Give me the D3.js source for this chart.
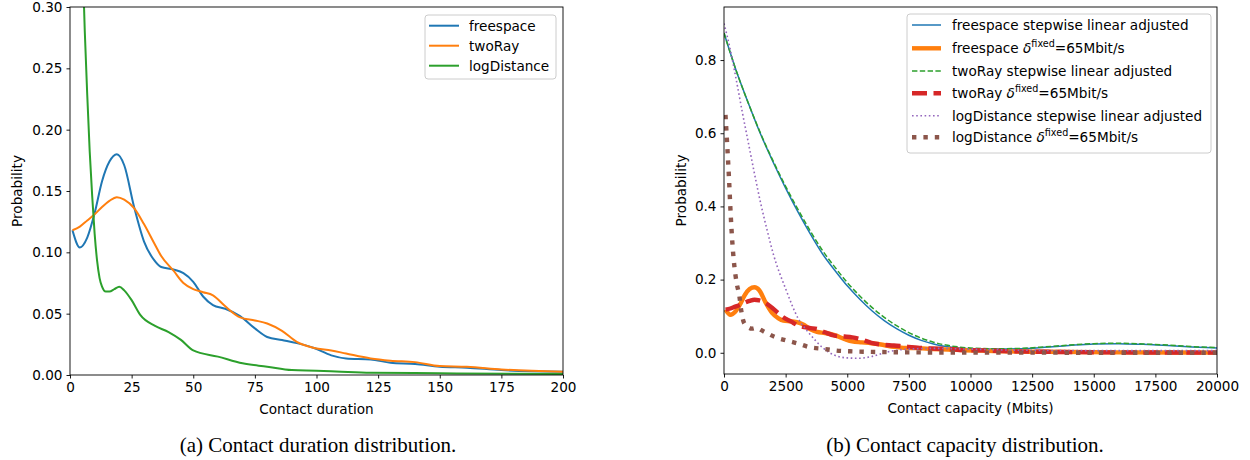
<!DOCTYPE html>
<html>
<head>
<meta charset="utf-8">
<script src="https://cdn.jsdelivr.net/npm/d3@7"></script>
<style>
  body { margin: 0; background: #fff; }
  svg text { font-family: "DejaVu Sans", sans-serif; }
</style>
</head>
<body>
<svg id="chart" width="1250" height="460"></svg>
<script>
// ---------------- DATA ----------------
// (a) Contact duration distribution
const durX = [1, 4, 7, 10, 13, 16, 19, 22, 26, 30, 34, 37, 42, 46, 50, 54, 58, 63, 69, 75, 80, 86, 92, 99, 106, 112, 122, 130, 140, 150, 161, 175, 200];
const durFreespace = [0.118, 0.104, 0.112, 0.132, 0.158, 0.174, 0.180, 0.171, 0.137, 0.109, 0.094, 0.088, 0.086, 0.083, 0.076, 0.064, 0.057, 0.054, 0.048, 0.038, 0.031, 0.0285, 0.026, 0.022, 0.016, 0.0135, 0.0127, 0.010, 0.009, 0.0068, 0.006, 0.004, 0.0027];
const durTwoRay = [0.118, 0.121, 0.126, 0.131, 0.137, 0.142, 0.145, 0.143, 0.136, 0.123, 0.108, 0.097, 0.085, 0.075, 0.070, 0.0675, 0.065, 0.056, 0.047, 0.0445, 0.042, 0.036, 0.027, 0.022, 0.020, 0.0175, 0.0135, 0.0117, 0.0105, 0.0073, 0.0067, 0.0045, 0.0027];
const durLogX = [1, 2, 3, 4, 5, 6, 7, 8, 9, 10, 11, 12, 13, 14.5, 16, 18, 20, 22, 25, 28.5, 34.5, 40, 45, 50, 60, 70, 80, 90, 100, 110, 122, 150, 200];
const durLogDistance = [0.65, 0.58, 0.50, 0.42, 0.345, 0.28, 0.228, 0.182, 0.146, 0.115, 0.093, 0.079, 0.072, 0.068, 0.068, 0.070, 0.072, 0.069, 0.061, 0.049, 0.040, 0.035, 0.0286, 0.020, 0.015, 0.0095, 0.0068, 0.004, 0.0035, 0.0027, 0.0019, 0.0014, 0.0008];
const durXTicks = [0, 25, 50, 75, 100, 125, 150, 175, 200];
const durYTicks = [0.00, 0.05, 0.10, 0.15, 0.20, 0.25, 0.30];
const durSeriesNames = ["freespace", "twoRay", "logDistance"];

// (b) Contact capacity distribution
const capStepX = [0, 500, 1000, 1500, 2000, 2500, 3000, 3500, 4000, 4500, 5000, 5500, 6000, 6500, 7000, 7500, 8000, 8500, 9000, 9500, 10000, 11000, 12000, 13000, 14000, 15000, 16000, 17000, 18000, 19000, 20000];
const capFreespaceStep = [0.874, 0.77, 0.68, 0.595, 0.52, 0.45, 0.385, 0.325, 0.27, 0.225, 0.183, 0.147, 0.115, 0.088, 0.066, 0.048, 0.034, 0.024, 0.017, 0.013, 0.011, 0.010, 0.011, 0.015, 0.020, 0.024, 0.025, 0.023, 0.020, 0.016, 0.013];
const capTwoRayStep = [0.874, 0.77, 0.68, 0.597, 0.523, 0.455, 0.392, 0.333, 0.279, 0.234, 0.192, 0.156, 0.124, 0.097, 0.074, 0.055, 0.040, 0.029, 0.021, 0.016, 0.013, 0.011, 0.012, 0.016, 0.021, 0.025, 0.026, 0.024, 0.021, 0.017, 0.014];
const capLogStepX = [0, 250, 500, 750, 1000, 1250, 1500, 1750, 2000, 2500, 3000, 3500, 4000, 4500, 5000, 5500, 6000, 6500, 7000, 7500, 8500, 10000, 12000, 15000, 20000];
const capLogDistanceStep = [0.90, 0.83, 0.745, 0.655, 0.57, 0.485, 0.405, 0.335, 0.27, 0.175, 0.095, 0.05, 0.014, -0.007, -0.014, -0.015, -0.010, 0.000, 0.007, 0.010, 0.012, 0.010, 0.007, 0.006, 0.006];
const capFixedX = [65, 260, 455, 650, 845, 1040, 1235, 1430, 1690, 1950, 2210, 2405, 2730, 2990, 3250, 3510, 3770, 4095, 4485, 4875, 5200, 5590, 5980, 6435, 6890, 7280, 7930, 8450, 9100, 9750, 10465, 11375, 13000, 16000, 20000];
const capFreespaceFixed = [0.118, 0.104, 0.112, 0.132, 0.158, 0.174, 0.179, 0.171, 0.137, 0.109, 0.094, 0.088, 0.086, 0.083, 0.076, 0.064, 0.057, 0.054, 0.048, 0.038, 0.031, 0.0285, 0.026, 0.022, 0.016, 0.0135, 0.0127, 0.010, 0.009, 0.0068, 0.006, 0.004, 0.0027, 0.001, 0.0005];
const capTwoRayFixed = [0.118, 0.121, 0.126, 0.131, 0.137, 0.142, 0.145, 0.143, 0.136, 0.123, 0.108, 0.097, 0.085, 0.075, 0.070, 0.0675, 0.065, 0.056, 0.047, 0.0445, 0.042, 0.036, 0.027, 0.022, 0.020, 0.0175, 0.0135, 0.0117, 0.0105, 0.0073, 0.0067, 0.0045, 0.0027, 0.001, 0.0005];
const capLogFixedX = [60, 120, 200, 270, 340, 400, 460, 515, 620, 700, 780, 900, 1000, 1124, 1300, 1594, 2069, 2515, 3014, 3489, 4004, 4572, 5111, 6000, 7000, 8000, 10000, 13000, 20000];
const capLogDistanceFixed = [0.65, 0.58, 0.48, 0.38, 0.30, 0.25, 0.215, 0.19, 0.157, 0.115, 0.088, 0.074, 0.069, 0.066, 0.068, 0.059, 0.043, 0.034, 0.025, 0.015, 0.011, 0.006, 0.004, 0.0025, 0.0015, 0.001, 0.0005, 0.0003, 0.0002];
const capXTicks = [0, 2500, 5000, 7500, 10000, 12500, 15000, 17500, 20000];
const capYTicks = [0.0, 0.2, 0.4, 0.6, 0.8];
const capSeriesNames = ["freespace stepwise linear adjusted", "freespace", "twoRay stepwise linear adjusted", "twoRay", "logDistance stepwise linear adjusted", "logDistance"];

// ---------------- DRAWING ----------------
const svg = d3.select("#chart");
const FS = 13.6;
const C = { blue: "#1f77b4", orange: "#ff7f0e", green: "#2ca02c", red: "#d62728", purple: "#9467bd", brown: "#8c564b" };

function zip(xs, ys) { return xs.map((x, i) => [x, ys[i]]); }

function panel(id, box, xDomain, yDomain, xTicks, yTicks, yFmt, xLabel, yLabelOffset) {
  const x = d3.scaleLinear().domain(xDomain).range([box.l, box.r]);
  const y = d3.scaleLinear().domain(yDomain).range([box.b, box.t]);
  svg.append("clipPath").attr("id", id).append("rect")
    .attr("x", box.l).attr("y", box.t).attr("width", box.r - box.l).attr("height", box.b - box.t);
  const g = svg.append("g");
  const plot = g.append("g").attr("clip-path", `url(#${id})`);
  const axG = g.append("g");
  const xa = axG.append("g").attr("transform", `translate(0,${box.b})`)
    .call(d3.axisBottom(x).tickValues(xTicks).tickSize(3.5).tickPadding(4).tickFormat(d3.format("d")));
  const ya = axG.append("g").attr("transform", `translate(${box.l},0)`)
    .call(d3.axisLeft(y).tickValues(yTicks).tickSize(3.5).tickPadding(4).tickFormat(yFmt));
  [xa, ya].forEach(a => {
    a.select(".domain").remove();
    a.selectAll("line").attr("stroke", "#000").attr("stroke-width", 0.9);
    a.selectAll("text").attr("font-size", FS).attr("fill", "#000").attr("font-family", "DejaVu Sans");
  });
  axG.append("rect").attr("x", box.l).attr("y", box.t).attr("width", box.r - box.l).attr("height", box.b - box.t)
    .attr("fill", "none").attr("stroke", "#000").attr("stroke-width", 0.9);
  axG.append("text").attr("x", (box.l + box.r) / 2).attr("y", box.b + 39).attr("text-anchor", "middle")
    .attr("font-size", FS).text(xLabel);
  axG.append("text").attr("transform", `translate(${box.l - yLabelOffset},${(box.t + box.b) / 2}) rotate(-90)`)
    .attr("text-anchor", "middle").attr("font-size", FS).text("Probability");
  return { x, y, plot, g };
}

function drawLine(p, data, color, width, dash) {
  const line = d3.line().x(d => p.x(d[0])).y(d => p.y(d[1])).curve(d3.curveMonotoneX);
  const path = p.plot.append("path").datum(data).attr("d", line)
    .attr("fill", "none").attr("stroke", color).attr("stroke-width", width)
    .attr("stroke-linejoin", "round").attr("stroke-linecap", "butt");
  if (dash) path.attr("stroke-dasharray", dash);
}

// Panel (a)
const pa = panel("clipA", { l: 70, r: 563, t: 7, b: 375 }, [0, 200], [0, 0.30], durXTicks, durYTicks, d3.format(".2f"), "Contact duration", 48);
drawLine(pa, zip(durX, durFreespace), C.blue, 2);
drawLine(pa, zip(durX, durTwoRay), C.orange, 2);
drawLine(pa, zip(durLogX, durLogDistance), C.green, 2);

// Legend (a)
(function () {
  const lg = pa.g.append("g");
  lg.append("rect").attr("x", 425).attr("y", 15).attr("width", 131).attr("height", 64).attr("rx", 3)
    .attr("fill", "#fff").attr("fill-opacity", 0.8).attr("stroke", "#ccc").attr("stroke-width", 1);
  const cols = [C.blue, C.orange, C.green];
  durSeriesNames.forEach((name, i) => {
    const yy = 25.7 + i * 20;
    lg.append("line").attr("x1", 429).attr("x2", 459).attr("y1", yy).attr("y2", yy)
      .attr("stroke", cols[i]).attr("stroke-width", 2);
    lg.append("text").attr("x", 469).attr("y", yy + 4.8).attr("font-size", FS).text(name);
  });
})();

// Panel (b)
const pb = panel("clipB", { l: 724, r: 1217, t: 7, b: 374 }, [0, 20000], [-0.058, 0.945], capXTicks, capYTicks, d3.format(".1f"), "Contact capacity (Mbits)", 38.5);
const bStyles = [
  { c: C.blue, w: 1.5, d: null },
  { c: C.orange, w: 4.4, d: null },
  { c: C.green, w: 1.5, d: "5.4,2.4" },
  { c: C.red, w: 4.4, d: "15,6.5" },
  { c: C.purple, w: 1.6, d: "1.6,2.6" },
  { c: C.brown, w: 4.4, d: "4.4,7" }
];
drawLine(pb, zip(capStepX, capFreespaceStep), bStyles[0].c, bStyles[0].w, bStyles[0].d);
drawLine(pb, zip(capFixedX, capFreespaceFixed), bStyles[1].c, bStyles[1].w, bStyles[1].d);
drawLine(pb, zip(capStepX, capTwoRayStep), bStyles[2].c, bStyles[2].w, bStyles[2].d);
drawLine(pb, zip(capFixedX, capTwoRayFixed), bStyles[3].c, bStyles[3].w, bStyles[3].d);
drawLine(pb, zip(capLogStepX, capLogDistanceStep), bStyles[4].c, bStyles[4].w, bStyles[4].d);
drawLine(pb, zip(capLogFixedX, capLogDistanceFixed), bStyles[5].c, bStyles[5].w, bStyles[5].d);

// Legend (b)
(function () {
  const lg = pb.g.append("g");
  lg.append("rect").attr("x", 907).attr("y", 14).attr("width", 304).attr("height", 139).attr("rx", 3)
    .attr("fill", "#fff").attr("fill-opacity", 0.8).attr("stroke", "#ccc").attr("stroke-width", 1);
  const rows = [25, 48.3, 71, 93.3, 115.7, 137.3];
  capSeriesNames.forEach((name, i) => {
    const yy = rows[i];
    const s = bStyles[i];
    const ln = lg.append("line").attr("x1", 912).attr("x2", 941).attr("y1", yy).attr("y2", yy)
      .attr("stroke", s.c).attr("stroke-width", s.w);
    if (s.d) ln.attr("stroke-dasharray", s.d);
    const t = lg.append("text").attr("x", 952).attr("y", yy + 4.8).attr("font-size", FS);
    if (i % 2 === 0) {
      t.text(name);
    } else {
      t.append("tspan").text(name + " ");
      t.append("tspan").attr("font-style", "italic").text("δ");
      t.append("tspan").attr("font-size", 9.6).attr("dy", -6).text("fixed");
      t.append("tspan").attr("dy", 6).text("=65Mbit/s");
    }
  });
})();

// Captions
svg.append("text").attr("x", 318).attr("y", 452).attr("text-anchor", "middle")
  .style("font-family", "'Liberation Serif', 'Times New Roman', serif").attr("font-size", 21)
  .text("(a) Contact duration distribution.");
svg.append("text").attr("x", 965).attr("y", 452).attr("text-anchor", "middle")
  .style("font-family", "'Liberation Serif', 'Times New Roman', serif").attr("font-size", 21)
  .text("(b) Contact capacity distribution.");
</script>
</body>
</html>
